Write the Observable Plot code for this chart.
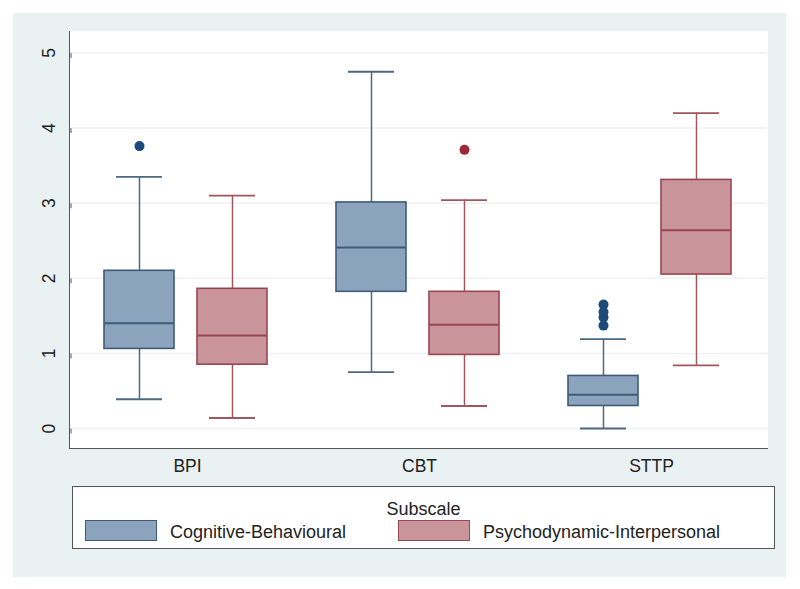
<!DOCTYPE html>
<html>
<head>
<meta charset="utf-8">
<script src="https://cdn.jsdelivr.net/npm/d3@7"></script>
<script src="https://cdn.jsdelivr.net/npm/@observablehq/plot@0.6"></script>
<style>
  html, body { margin: 0; padding: 0; background: #ffffff; }
  body { width: 800px; height: 589px; position: relative; overflow: hidden;
         font-family: "Liberation Sans", Arial, Helvetica, sans-serif; }
  #bg { position: absolute; left: 13px; top: 13px; width: 773px; height: 564px; background: #eaf1f3; }
  #plotarea { position: absolute; left: 69px; top: 31px; width: 699px; height: 418px; box-sizing: border-box;
              background: #ffffff; border-left: 1.5px solid #555; border-bottom: 1.5px solid #555; }
  #chart { position: absolute; left: 0; top: 0; }
  #legend { position: absolute; left: 72px; top: 486px; width: 703px; height: 63px; box-sizing: border-box;
            background: #ffffff; border: 1px solid #555; color: #222; font-size: 18px; }
  #legend .title { position: absolute; left: 0; right: 0; top: 12px; text-align: center; line-height: 20px; }
  #legend .sw { position: absolute; top: 33px; width: 72px; height: 21px; box-sizing: border-box; border: 1.5px solid; }
  #legend .lab { position: absolute; top: 35px; line-height: 20px; white-space: nowrap; }
</style>
</head>
<body>
<div id="bg"></div>
<div id="plotarea"></div>
<div id="chart"></div>
<div id="legend"></div>
<script>
// ---- data ----
const categories = ["BPI", "CBT", "STTP"];
const subscales = ["Cognitive-Behavioural", "Psychodynamic-Interpersonal"];
const legendTitle = "Subscale";
const yTicks = [0, 1, 2, 3, 4, 5];

// Cognitive-Behavioural subscale: whisker low, Q1, median, Q3, whisker high
const cbLow    = [0.39, 0.75, 0.00];
const cbQ1     = [1.06, 1.82, 0.30];
const cbMedian = [1.40, 2.41, 0.45];
const cbQ3     = [2.10, 3.01, 0.70];
const cbHigh   = [3.35, 4.75, 1.19];
const cbOutlierCategory = ["BPI", "STTP", "STTP", "STTP", "STTP"];
const cbOutlierValue    = [3.76, 1.37, 1.48, 1.55, 1.65];

// Psychodynamic-Interpersonal subscale
const piLow    = [0.14, 0.30, 0.84];
const piQ1     = [0.85, 0.98, 2.05];
const piMedian = [1.24, 1.38, 2.64];
const piQ3     = [1.86, 1.82, 3.31];
const piHigh   = [3.10, 3.04, 4.20];
const piOutlierCategory = ["CBT"];
const piOutlierValue    = [3.71];

// ---- build tables ----
const stats = [
  {low: cbLow, q1: cbQ1, med: cbMedian, q3: cbQ3, high: cbHigh, oc: cbOutlierCategory, ov: cbOutlierValue},
  {low: piLow, q1: piQ1, med: piMedian, q3: piQ3, high: piHigh, oc: piOutlierCategory, ov: piOutlierValue}
];
const styles = [
  {fill: "#8ba3bd", stroke: "#3e5b7a", whisker: "#4d6883", dot: "#1d4a78"},
  {fill: "#c9959b", stroke: "#9a4652", whisker: "#a0565f", dot: "#9b2b37"}
];

const marks = [
  Plot.ruleY(yTicks, {stroke: "#f0f0f0", strokeWidth: 1.5}),
  Plot.axisY({ticks: yTicks, tickFormat: "d", tickSize: 5, tickPadding: 12, rotate: -90, textAnchor: "middle",
              lineAnchor: "bottom", stroke: "#555", fill: "#222", fontSize: 17.5}),
  Plot.axisFx({anchor: "bottom", tickSize: 0, tickPadding: 11, label: null, fill: "#222", fontSize: 17.5})
];

subscales.forEach((s, k) => {
  const st = stats[k], sty = styles[k];
  const rows = categories.map((c, i) => ({
    category: c, subscale: s, low: st.low[i], q1: st.q1[i], med: st.med[i], q3: st.q3[i], high: st.high[i]
  }));
  const outs = st.oc.map((c, i) => ({category: c, subscale: s, value: st.ov[i]}));
  marks.push(
    Plot.ruleX(rows, {fx: "category", x: "subscale", y1: "low", y2: "high", stroke: sty.whisker, strokeWidth: 1.5}),
    Plot.tickY(rows, {fx: "category", x: "subscale", y: "low", inset: 12, stroke: sty.whisker, strokeWidth: 1.8}),
    Plot.tickY(rows, {fx: "category", x: "subscale", y: "high", inset: 12, stroke: sty.whisker, strokeWidth: 1.8}),
    Plot.barY(rows, {fx: "category", x: "subscale", y1: "q1", y2: "q3", fill: sty.fill, stroke: sty.stroke, strokeWidth: 1.6}),
    Plot.tickY(rows, {fx: "category", x: "subscale", y: "med", stroke: sty.stroke, strokeWidth: 2}),
    Plot.dot(outs, {fx: "category", x: "subscale", y: "value", r: 5, fill: sty.dot, stroke: "none"})
  );
});

const chart = Plot.plot({
  width: 800,
  height: 480,
  marginLeft: 70,
  marginRight: 32,
  marginTop: 31,
  marginBottom: 32,
  style: {background: "transparent", fontFamily: "'Liberation Sans', Arial, Helvetica, sans-serif", fontSize: "17.5px", color: "#222"},
  fx: {domain: categories, padding: 0, label: null},
  x: {domain: subscales, paddingInner: 0.2513, paddingOuter: 0.3699, align: 0.47, axis: null},
  y: {domain: [-0.266, 5.286], axis: null},
  marks
});
document.getElementById("chart").appendChild(chart);

// ---- legend ----
const legend = document.getElementById("legend");
const t = document.createElement("div");
t.className = "title"; t.textContent = legendTitle;
legend.appendChild(t);
const swLeft = [12, 325], labLeft = [97, 410];
subscales.forEach((s, k) => {
  const sw = document.createElement("div");
  sw.className = "sw";
  sw.style.left = swLeft[k] + "px";
  sw.style.background = styles[k].fill;
  sw.style.borderColor = styles[k].stroke;
  legend.appendChild(sw);
  const lab = document.createElement("div");
  lab.className = "lab";
  lab.style.left = labLeft[k] + "px";
  lab.textContent = s;
  legend.appendChild(lab);
});
</script>
</body>
</html>
